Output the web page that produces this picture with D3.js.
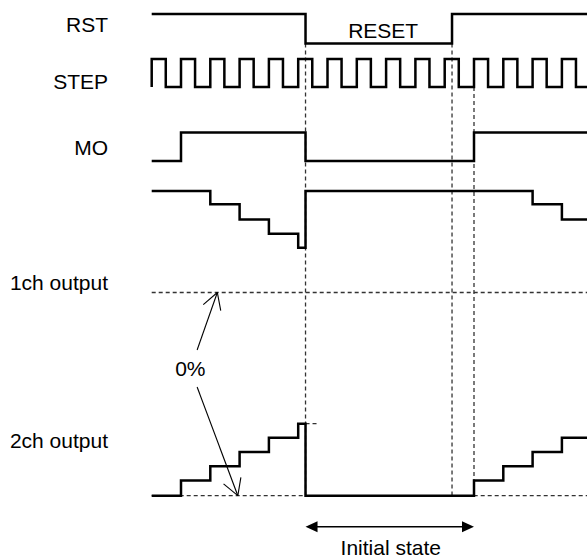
<!DOCTYPE html>
<html>
<head>
<meta charset="utf-8">
<script src="https://cdn.jsdelivr.net/npm/d3@7"></script>
<style>
  body { margin: 0; background: #fff; }
  text { font-family: Arial, "Liberation Sans", sans-serif; font-size: 21px; fill: #000; }
</style>
</head>
<body>
<div id="timing"></div>
<script>
// Signal names (left column)
const signalNames = ["RST", "STEP", "MO", "1ch output", "2ch output"];

// RST: time in STEP periods, logic level
const rstTimes = [0, 5.25, 10.25, 15];
const rstLevels = [1, 0, 1, 1];

// STEP pulse edges (time in STEP periods)
const stepRises = [0, 1, 2, 3, 4, 5, 6, 7, 8, 9, 10, 11, 12, 13, 14];
const stepFalls = [0.48, 1.48, 2.48, 3.48, 4.48, 5.48, 6.48, 7.48, 8.48, 9.48, 10.48, 11.48, 12.48, 13.48, 14.48];

// MO
const moTimes = [0, 1, 5.25, 11, 15];
const moLevels = [0, 1, 0, 1, 1];

// 1ch output (%)
const ch1Times = [0, 2, 3, 4, 5, 5.25, 13, 14, 15];
const ch1Values = [100, 87, 72, 58, 44, 100, 87, 72, 72];

// 2ch output (%)
const ch2Times = [0, 1, 2, 3, 4, 5, 5.25, 11, 12, 13, 14, 15];
const ch2Values = [0, 15, 29, 43, 57, 71, 0, 15, 29, 43, 57, 57];

// Marker times
const resetStart = 5.25, resetEnd = 10.25, moRestart = 11;
const zeroArrowTips = [2.24, 2.94];

const width = 587, height = 560;

const svg = d3.select("#timing")
  .append("svg")
  .attr("width", width)
  .attr("height", height);

// scales
const x = d3.scaleLinear().domain([0, 15]).range([151.7, 591.2]);
const yRst = d3.scaleLinear().domain([0, 1]).range([43.5, 14]);
const yStep = d3.scaleLinear().domain([0, 1]).range([87, 59]);
const yMo = d3.scaleLinear().domain([0, 1]).range([161, 132.5]);
const y1 = d3.scaleLinear().domain([0, 100]).range([292.5, 191]);
const y2 = d3.scaleLinear().domain([0, 100]).range([495.7, 394.2]);

const zip = (ts, vs) => ts.map((t, i) => [t, vs[i]]);
const stepLine = yScale => d3.line()
  .x(d => x(d[0]))
  .y(d => yScale(d[1]))
  .curve(d3.curveStepAfter);

// STEP points from edges
const stepPts = [[0, 0]];
stepRises.forEach((r, i) => {
  stepPts.push([r, 1]);
  stepPts.push([stepFalls[i], 0]);
});
stepPts.push([15, 0]);

// dashed guide lines
const dashed = svg.append("g")
  .attr("stroke", "#333")
  .attr("stroke-width", 1.3)
  .attr("stroke-dasharray", "4,3")
  .attr("fill", "none");

dashed.append("line")
  .attr("x1", x(0)).attr("x2", x(15))
  .attr("y1", y1(0)).attr("y2", y1(0));
dashed.append("line")
  .attr("x1", x(0)).attr("x2", x(15))
  .attr("y1", y2(0)).attr("y2", y2(0));
dashed.append("line")
  .attr("x1", x(resetStart)).attr("x2", x(5.65))
  .attr("y1", y2(71)).attr("y2", y2(71));
[resetStart, resetEnd].forEach(t => {
  dashed.append("line")
    .attr("x1", x(t)).attr("x2", x(t))
    .attr("y1", yRst(0)).attr("y2", y2(0));
});
dashed.append("line")
  .attr("x1", x(moRestart)).attr("x2", x(moRestart))
  .attr("y1", yStep(0)).attr("y2", y2(0));

// waveforms
const waves = [
  [zip(rstTimes, rstLevels), yRst],
  [stepPts, yStep],
  [zip(moTimes, moLevels), yMo],
  [zip(ch1Times, ch1Values), y1],
  [zip(ch2Times, ch2Values), y2]
];
waves.forEach(([pts, ys]) => {
  svg.append("path")
    .attr("d", stepLine(ys)(pts))
    .attr("fill", "none")
    .attr("stroke", "#000")
    .attr("stroke-width", 2.5)
    .attr("stroke-linejoin", "miter");
});

// signal labels
const labelY = [32, 89, 155, 290, 448];
svg.selectAll(".name")
  .data(signalNames)
  .enter()
  .append("text")
  .attr("class", "name")
  .attr("x", 108)
  .attr("y", (d, i) => labelY[i])
  .attr("text-anchor", "end")
  .text(d => d);

svg.append("text")
  .attr("x", x(7.9))
  .attr("y", 38)
  .attr("text-anchor", "middle")
  .text("RESET");

// 0% label and arrows
svg.append("text")
  .attr("x", x(1.32))
  .attr("y", 376)
  .attr("text-anchor", "middle")
  .text("0%");

function openArrow(x0, y0, x1, y1) {
  const a = Math.atan2(y0 - y1, x0 - x1), len = 18.5, spread = Math.PI / 6;
  const g = svg.append("g").attr("stroke", "#000").attr("stroke-width", 1.1).attr("fill", "none");
  g.append("line").attr("x1", x0).attr("y1", y0).attr("x2", x1).attr("y2", y1);
  [a - spread, a + spread].forEach(b => {
    g.append("line")
      .attr("x1", x1).attr("y1", y1)
      .attr("x2", x1 + len * Math.cos(b)).attr("y2", y1 + len * Math.sin(b));
  });
}
openArrow(x(1.55), 350, x(zeroArrowTips[0]), y1(0));
openArrow(x(1.55), 387, x(zeroArrowTips[1]), y2(0));

// Initial state arrow
const ay = 526.7;
svg.append("line")
  .attr("x1", x(resetStart) + 4).attr("x2", x(moRestart) - 4)
  .attr("y1", ay).attr("y2", ay)
  .attr("stroke", "#000").attr("stroke-width", 1.4);
svg.append("path")
  .attr("d", `M${x(resetStart)},${ay} l12,-5.5 v11 z M${x(moRestart)},${ay} l-12,-5.5 v11 z`)
  .attr("fill", "#000");
svg.append("text")
  .attr("x", (x(resetStart) + x(moRestart)) / 2 + 1)
  .attr("y", 555)
  .attr("text-anchor", "middle")
  .text("Initial state");
</script>
</body>
</html>
